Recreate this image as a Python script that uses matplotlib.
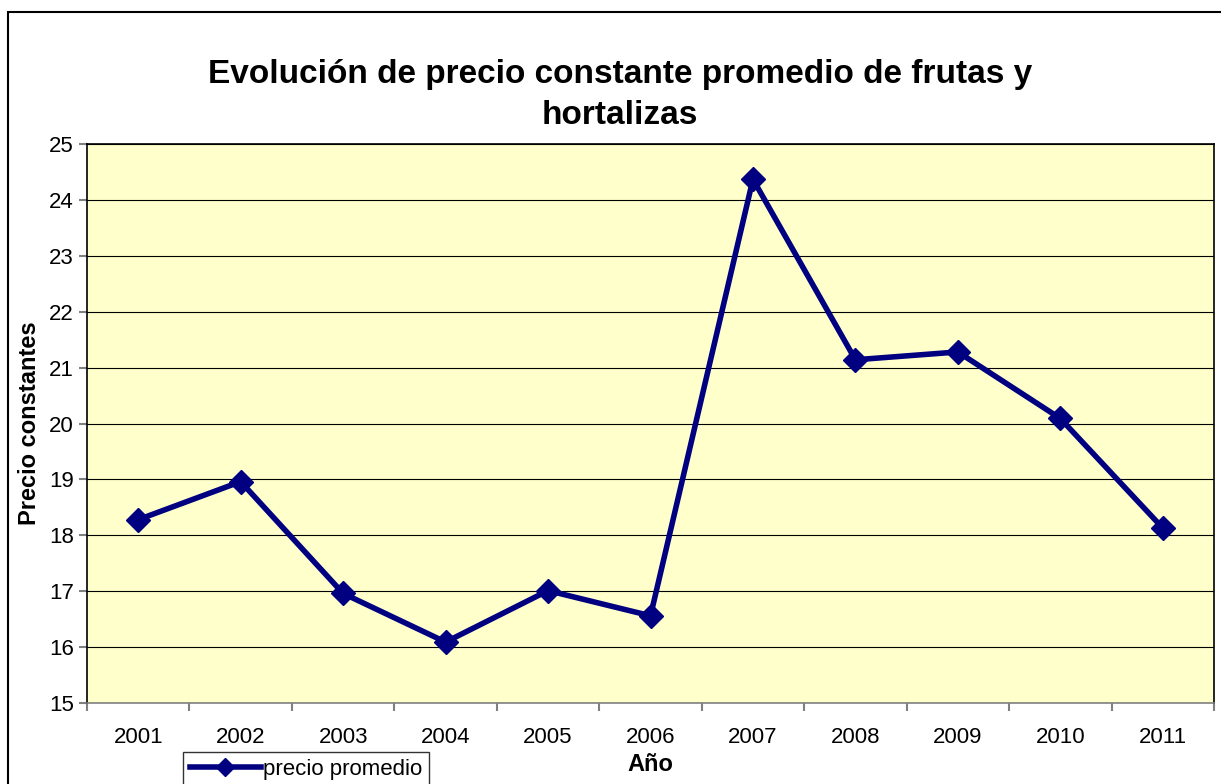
import matplotlib
matplotlib.use("Agg")
import matplotlib.pyplot as plt
from matplotlib.patches import Rectangle

years = ["2001", "2002", "2003", "2004", "2005", "2006",
         "2007", "2008", "2009", "2010", "2011"]
precio = [18.28, 18.96, 16.96, 16.09, 17.01, 16.56,
          24.37, 21.14, 21.28, 20.09, 18.13]

plt.rcParams["font.family"] = ["Liberation Sans", "DejaVu Sans"]

fig = plt.figure(figsize=(12.21, 7.84), dpi=100)
fig.patches.append(Rectangle((8 / 1221, -0.01), 1.0, 1 - 12 / 784 + 0.01,
                             transform=fig.transFigure, fill=False,
                             edgecolor="black", linewidth=1.5))

ax = fig.add_axes([87 / 1221, 1 - 703 / 784, (1214 - 87) / 1221, (703 - 144) / 784])
ax.set_facecolor("#FFFFCC")

x = list(range(len(years)))
ax.plot(x, precio, color="#000080", linewidth=4, marker="D", markersize=12,
        label="precio promedio", zorder=3)

ax.set_xlim(-0.5, len(years) - 0.5)
ax.set_ylim(15, 25)
ax.set_yticks(range(15, 26))
ax.yaxis.grid(True, color="black", linewidth=0.8)
ax.set_axisbelow(True)

ax.set_xticks([i - 0.5 for i in range(len(years) + 1)])
ax.set_xticklabels([])
ax.set_xticks(x, minor=True)
ax.set_xticklabels(years, minor=True)
ax.tick_params(axis="x", which="major", length=6, color="#808080", width=1.5)
ax.tick_params(axis="x", which="minor", length=0, pad=17, labelsize=16)
ax.tick_params(axis="y", length=6, color="#808080", width=1.5, labelsize=16)

for s in ax.spines.values():
    s.set_color("black")
    s.set_linewidth(1.2)
ax.spines["bottom"].set_color("#808080")

fig.text(620 / 1221, 1 - 95 / 784,
         "Evolución de precio constante promedio de frutas y\nhortalizas",
         fontsize=24, fontweight="bold", ha="center", va="center",
         linespacing=1.42)
ax.set_ylabel("Precio constantes", fontsize=17, fontweight="bold", labelpad=6)
ax.set_xlabel("Año", fontsize=17, fontweight="bold", labelpad=4)

leg = ax.legend(loc="upper left", bbox_to_anchor=(183 / 1221, 1 - 752 / 784),
                bbox_transform=fig.transFigure, fontsize=16, frameon=True,
                fancybox=False, borderpad=0.3, handlelength=3.2,
                handletextpad=0.1, borderaxespad=0, markerscale=0.8)
leg.get_frame().set_edgecolor("black")
leg.get_frame().set_linewidth(1)

fig.savefig("out.png", dpi=100)
